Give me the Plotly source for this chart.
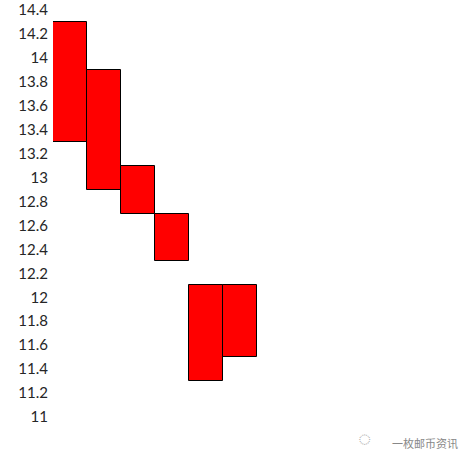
import plotly.graph_objects as go

# floating bars: low / high for each period
periods = [1, 2, 3, 4, 5, 6]
lows = [13.3, 12.9, 12.7, 12.3, 11.3, 11.5]
highs = [14.3, 13.9, 13.1, 12.7, 12.1, 12.1]
y_ticks = [11, 11.2, 11.4, 11.6, 11.8, 12, 12.2, 12.4, 12.6, 12.8, 13, 13.2, 13.4, 13.6, 13.8, 14, 14.2, 14.4]
tick_text = ["11", "11.2", "11.4", "11.6", "11.8", "12", "12.2", "12.4", "12.6", "12.8",
             "13", "13.2", "13.4", "13.6", "13.8", "14", "14.2", "14.4"]

fig = go.Figure()
fig.add_trace(go.Bar(
    x=periods,
    base=lows,
    y=[h - l for h, l in zip(highs, lows)],
    marker=dict(color="#FF0000", line=dict(color="black", width=1)),
    width=1,
    hoverinfo="skip",
))

fig.update_layout(
    width=472, height=466,
    margin=dict(l=53, r=11, t=10, b=49),
    paper_bgcolor="white", plot_bgcolor="white",
    showlegend=False,
    bargap=0,
    font=dict(family="Lato, Open Sans, sans-serif", size=15, color="#262626"),
    xaxis=dict(range=[0.5, 12.5], showticklabels=False, showgrid=False,
               zeroline=False, showline=False, ticks="", automargin=False),
    yaxis=dict(range=[11, 14.4], tickvals=y_ticks, ticktext=tick_text,
               showgrid=False, zeroline=False, showline=False, ticks="",
               ticklabelstandoff=4, automargin=False, ticklabeloverflow="allow"),
)

# watermark (icon + account name), positioned in paper coords below the plot
fig.add_annotation(text="\u25cc", x=0.785, y=-0.085, xref="paper", yref="paper",
                   showarrow=False, font=dict(size=20, color="#b0b0b0"))
fig.add_annotation(text="一枚邮币资讯", xref="paper", yref="paper",
                   x=0.912, y=-0.064, xanchor="center", yanchor="middle",
                   showarrow=False,
                   font=dict(family="Noto Sans CJK SC", size=11, color="#888888"))

# drop the default 8px body margin so the figure sits at the window corner
fig.write_html("out.html", config={"displayModeBar": False},
               post_script="document.body.style.margin='0';")
